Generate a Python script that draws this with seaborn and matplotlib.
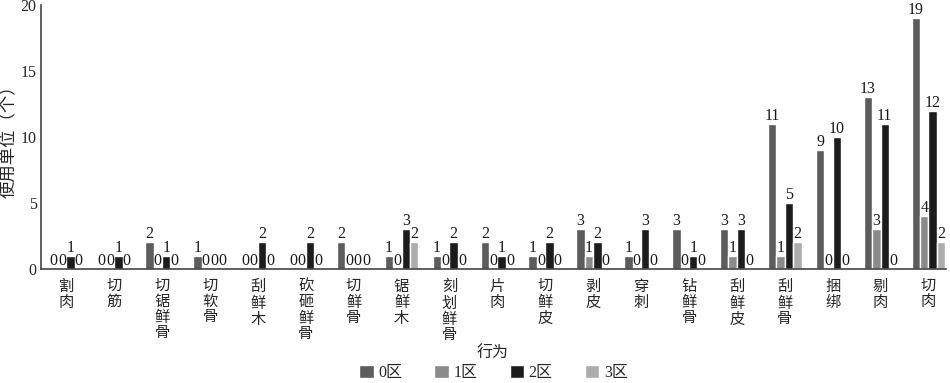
import pandas as pd
import matplotlib
matplotlib.use("Agg")
import matplotlib.pyplot as plt
import seaborn as sns

# Data
behaviors = ["割肉", "切筋", "切锯鲜骨", "切软骨", "刮鲜木", "砍砸鲜骨", "切鲜骨",
             "锯鲜木", "刻划鲜骨", "片肉", "切鲜皮", "剥皮", "穿刺", "钻鲜骨",
             "刮鲜皮", "刮鲜骨", "捆绑", "剔肉", "切肉"]
zones = ["0区", "1区", "2区", "3区"]
zone0 = [0, 0, 2, 1, 0, 0, 2, 1, 1, 2, 1, 3, 1, 3, 3, 11, 9, 13, 19]
zone1 = [0, 0, 0, 0, 0, 0, 0, 0, 0, 0, 0, 1, 0, 0, 1, 1, 0, 3, 4]
zone2 = [1, 1, 1, 0, 2, 2, 0, 3, 2, 1, 2, 2, 3, 1, 3, 5, 10, 11, 12]
zone3 = [0, 0, 0, 0, 0, 0, 0, 2, 0, 0, 0, 0, 0, 0, 0, 2, 0, 0, 2]
colors = ["#5c5c5c", "#8a8a8a", "#1c1c1c", "#adadad"]

rows = []
for z, vals in zip(zones, [zone0, zone1, zone2, zone3]):
    for b, v in zip(behaviors, vals):
        rows.append({"行为": b, "区": z, "数量": v})
df = pd.DataFrame(rows)

sns.set_style("white")
plt.rcParams["font.family"] = ["Liberation Serif", "Noto Sans CJK SC"]

fig = plt.figure(figsize=(9.5, 3.83), dpi=100)
ax = fig.add_axes([0.043, 0.298, 0.953, 0.689])

sns.barplot(data=df, x="行为", y="数量", hue="区", order=behaviors,
            hue_order=zones, palette=colors, width=0.7, saturation=1,
            errorbar=None, ax=ax)

for cont in ax.containers:
    ax.bar_label(cont, fmt="%d", padding=0, fontsize=11.5, color="#1a1a1a")

ax.set_ylim(0, 20)
ax.set_yticks([0, 5, 10, 15, 20])
ax.set_xlim(-0.53, 18.37)
ax.set_xticks(range(len(behaviors)))
ax.set_xticklabels(["\n".join(b) for b in behaviors], linespacing=1.2,
                   fontsize=11, va="top")
ax.tick_params(axis="x", length=0, pad=8)
ax.tick_params(axis="y", direction="in", length=4, labelsize=11.5,
               color="#444444", pad=3)

for s in ["top", "right"]:
    ax.spines[s].set_visible(False)
for s in ["left", "bottom"]:
    ax.spines[s].set_color("#444444")
    ax.spines[s].set_linewidth(1.2)

ax.set_ylabel("使用单位（个）", fontsize=12.5, labelpad=3)
ax.set_xlabel("")
fig.text(0.518, 0.076, "行为", ha="center", va="center", fontsize=11.5)

handles, labels = ax.get_legend_handles_labels()
ax.legend(handles, labels, loc="center", bbox_to_anchor=(0.5, -0.395),
          ncol=4, frameon=False, fontsize=11.5, handlelength=0.9,
          handleheight=0.9, handletextpad=0.3, columnspacing=2.0,
          borderpad=0.2)

fig.savefig("out.png", dpi=100)
